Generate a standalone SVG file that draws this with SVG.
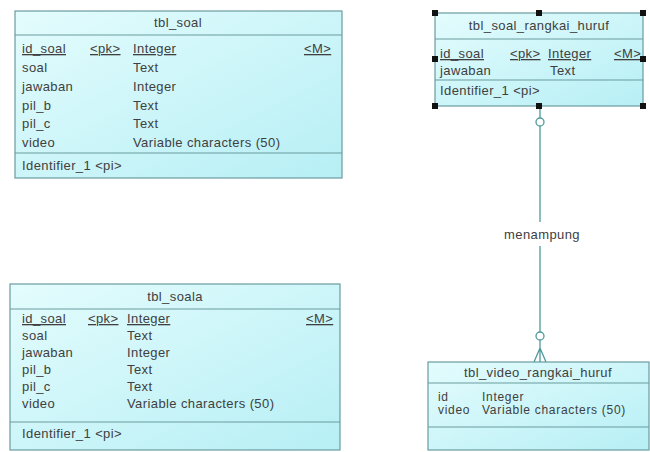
<svg xmlns="http://www.w3.org/2000/svg" width="650" height="452" viewBox="0 0 650 452">
<defs>
<linearGradient id="g" x1="0" y1="0" x2="1" y2="1">
<stop offset="0" stop-color="#e4fcfd"/>
<stop offset="1" stop-color="#b6eff5"/>
</linearGradient>
</defs>
<style>
.box{fill:url(#g);stroke:#6a9c9e;stroke-width:1.2}
.sep{stroke:#6a9c9e;stroke-width:1.2}
text{font-family:"Liberation Sans",Arial,sans-serif;font-size:13px;letter-spacing:0.4px;fill:#404040}
.t{text-anchor:middle}
.u{text-decoration:underline}
.s{font-size:12px;letter-spacing:0.7px}
.h{fill:#111}
.c{stroke:#4f9a9c;stroke-width:1.3;fill:none}
</style>
<rect width="650" height="452" fill="#ffffff"/>

<g id="tbl_soal">
<rect class="box" x="15" y="11" width="327" height="167"/>
<line class="sep" x1="15" y1="35" x2="342" y2="35"/>
<line class="sep" x1="15" y1="153" x2="342" y2="153"/>
<text class="t" x="178" y="27">tbl_soal</text>
<text class="u" x="22" y="53">id_soal</text><text class="u" x="90" y="53">&lt;pk&gt;</text><text class="u" x="133" y="53">Integer</text><text class="u" x="304" y="53">&lt;M&gt;</text>
<text x="22" y="72">soal</text><text x="133" y="72">Text</text>
<text x="22" y="91">jawaban</text><text x="133" y="91">Integer</text>
<text x="22" y="110">pil_b</text><text x="133" y="110">Text</text>
<text x="22" y="128">pil_c</text><text x="133" y="128">Text</text>
<text x="22" y="147">video</text><text x="133" y="147">Variable characters (50)</text>
<text x="22" y="170">Identifier_1 &lt;pi&gt;</text>
</g>

<g id="tbl_soala">
<rect class="box" x="10" y="284" width="330" height="166"/>
<line class="sep" x1="10" y1="309" x2="340" y2="309"/>
<line class="sep" x1="10" y1="422" x2="340" y2="422"/>
<text class="t" x="175" y="301">tbl_soala</text>
<text class="u" x="22" y="323">id_soal</text><text class="u" x="88" y="323">&lt;pk&gt;</text><text class="u" x="127" y="323">Integer</text><text class="u" x="306" y="323">&lt;M&gt;</text>
<text x="22" y="340">soal</text><text x="127" y="340">Text</text>
<text x="22" y="357">jawaban</text><text x="127" y="357">Integer</text>
<text x="22" y="374">pil_b</text><text x="127" y="374">Text</text>
<text x="22" y="391">pil_c</text><text x="127" y="391">Text</text>
<text x="22" y="408">video</text><text x="127" y="408">Variable characters (50)</text>
<text x="22" y="438">Identifier_1 &lt;pi&gt;</text>
</g>

<g id="tbl_soal_rangkai_huruf">
<rect class="box" x="435" y="13" width="208" height="93"/>
<line class="sep" x1="435" y1="39" x2="643" y2="39"/>
<line class="sep" x1="435" y1="80" x2="643" y2="80"/>
<text class="t" x="539" y="30">tbl_soal_rangkai_huruf</text>
<text class="u" x="440" y="58">id_soal</text><text class="u" x="510" y="58">&lt;pk&gt;</text><text class="u" x="548" y="58">Integer</text><text class="u" x="614" y="58">&lt;M&gt;</text>
<text x="440" y="75">jawaban</text><text x="550" y="75">Text</text>
<text x="440" y="95">Identifier_1 &lt;pi&gt;</text>
<g class="h">
<rect x="432" y="10" width="6" height="6"/><rect x="536" y="10" width="6" height="6"/><rect x="640" y="10" width="6" height="6"/>
<rect x="432" y="56" width="6" height="6"/><rect x="640" y="56" width="6" height="6"/>
<rect x="432" y="103" width="6" height="6"/><rect x="536" y="103" width="6" height="6"/><rect x="640" y="103" width="6" height="6"/>
</g>
</g>

<g id="tbl_video_rangkai_huruf">
<rect class="box" x="428" y="362" width="221" height="88"/>
<line class="sep" x1="428" y1="383" x2="649" y2="383"/>
<line class="sep" x1="428" y1="427" x2="649" y2="427"/>
<text class="t" x="538" y="377">tbl_video_rangkai_huruf</text>
<text class="s" x="438" y="401">id</text><text class="s" x="482" y="401">Integer</text>
<text class="s" x="438" y="414">video</text><text class="s" x="482" y="414">Variable characters (50)</text>
</g>

<g id="connectors">
<path class="c" d="M540 109 V118 M540 126 V222 M540 246 V332 M540 340 V362 M540 348 L534 362 M540 348 L546 362"/>
<circle class="c" cx="540" cy="122" r="4"/>
<circle class="c" cx="540" cy="336" r="4"/>
<text class="t" x="542" y="239">menampung</text>
</g>
</svg>
